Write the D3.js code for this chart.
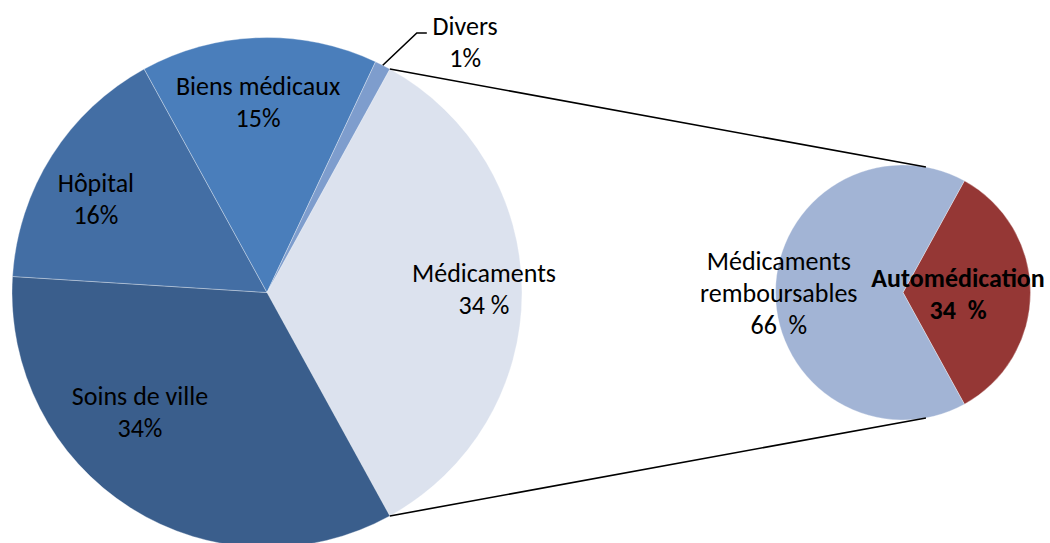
<!DOCTYPE html>
<html lang="fr">

<head>
    <meta charset="UTF-8">
    <title>Dépenses de santé</title>
    <script src="https://d3js.org/d3.v7.min.js"></script>
    <style>
        body {
            margin: 0;
            background: #fff;
        }

        text {
            font-family: Carlito, Lato, "Noto Sans", sans-serif;
            font-size: 26px;
            fill: #000;
            white-space: pre;
        }
    </style>
</head>

<body>
    <div id="chart"></div>
    <script>
        // data
        var mainLabels = ["Médicaments", "Soins de ville", "Hôpital", "Biens médicaux", "Divers"];
        var mainValues = [34, 34, 16, 15, 1];
        var mainPct = ["34 %", "34%", "16%", "15%", "1%"];

        var subLabels = ["Automédication", "Médicaments remboursables"];
        var subValues = [34, 66];
        var subPct = ["34  %", "66  %"];

        var width = 1050, height = 543;
        var mainColors = ["#dce2ee", "#3a5e8c", "#436ea4", "#4a7ebb", "#7e9dcd"];
        var subColors = ["#953735", "#a2b4d5"];

        var svg = d3.select("#chart").append("svg")
            .attr("width", width)
            .attr("height", height);

        var rad = function (deg) { return deg * Math.PI / 180; };

        // main pie, the "Médicaments" slice is centred on the right
        var mainR = 255, mainC = [267, 292.5];
        var mainTotal = d3.sum(mainValues);
        var mainStart = Math.PI / 2 - Math.PI * mainValues[0] / mainTotal;

        var mainPie = d3.pie().sort(null).value(function (d) { return d; })
            .startAngle(mainStart).endAngle(mainStart + 2 * Math.PI);
        var mainArcs = mainPie(mainValues);
        var mainArc = d3.arc().innerRadius(0).outerRadius(mainR);

        var gMain = svg.append("g")
            .attr("transform", "translate(" + mainC[0] + "," + mainC[1] + ")");

        gMain.selectAll("path")
            .data(mainArcs)
            .enter().append("path")
            .attr("d", mainArc)
            .attr("fill", function (d, i) { return mainColors[i]; })
            .attr("stroke", "#ffffff")
            .attr("stroke-opacity", 0.4)
            .attr("stroke-width", 0.8);

        // secondary pie
        var subR = 127.5, subC = [903, 292.5];
        var subTotal = d3.sum(subValues);
        var subStart = Math.PI / 2 - Math.PI * subValues[0] / subTotal;
        var subPie = d3.pie().sort(null).value(function (d) { return d; })
            .startAngle(subStart).endAngle(subStart + 2 * Math.PI);
        var subArcs = subPie(subValues);
        var subArc = d3.arc().innerRadius(0).outerRadius(subR);

        var gSub = svg.append("g")
            .attr("transform", "translate(" + subC[0] + "," + subC[1] + ")");

        gSub.selectAll("path")
            .data(subArcs)
            .enter().append("path")
            .attr("d", subArc)
            .attr("fill", function (d, i) { return subColors[i]; })
            .attr("stroke", "#ffffff")
            .attr("stroke-opacity", 0.4)
            .attr("stroke-width", 0.8);

        // polar point around a centre (angle clockwise from top)
        function polar(c, r, a) {
            return [c[0] + r * Math.sin(a), c[1] - r * Math.cos(a)];
        }

        // tangent point on the small pie seen from p
        function tangent(p, upper) {
            var dx = p[0] - subC[0], dy = p[1] - subC[1];
            var d = Math.sqrt(dx * dx + dy * dy);
            var base = Math.atan2(dy, dx);
            var off = Math.acos(subR / d);
            var t1 = [subC[0] + subR * Math.cos(base + off), subC[1] + subR * Math.sin(base + off)];
            var t2 = [subC[0] + subR * Math.cos(base - off), subC[1] + subR * Math.sin(base - off)];
            if (upper) return t1[1] < t2[1] ? t1 : t2;
            return t1[1] > t2[1] ? t1 : t2;
        }

        // connector lines between the pies
        var pTop = polar(mainC, mainR, mainArcs[0].startAngle);
        var pBot = polar(mainC, mainR, mainArcs[0].endAngle);
        [[pTop, tangent(pTop, true)], [pBot, tangent(pBot, false)]].forEach(function (l) {
            svg.append("line")
                .attr("x1", l[0][0]).attr("y1", l[0][1])
                .attr("x2", l[1][0]).attr("y2", l[1][1])
                .attr("stroke", "#000")
                .attr("stroke-width", 1.6);
        });

        // leader line for Divers
        var dv = mainArcs[4];
        var dMid = (dv.startAngle + dv.endAngle) / 2;
        var l0 = polar(mainC, mainR, dMid);
        var l1 = polar(mainC, mainR * 1.175, dMid + rad(3));
        svg.append("polyline")
            .attr("points", [l0, l1, [l1[0] + 10, l1[1]]].map(function (p) { return p.join(","); }).join(" "))
            .attr("fill", "none")
            .attr("stroke", "#000")
            .attr("stroke-width", 1.6);

        var lineH = 32;

        // label placement: [angle in degrees, radius as share of pie radius]
        var mainLabelPos = [[87.2, 0.852], [228.5, 0.665], [300.4, 0.778], [357.4, 0.775], [37.6, 1.274]];

        mainLabels.forEach(function (name, i) {
            var p = polar(mainC, mainR * mainLabelPos[i][1], rad(mainLabelPos[i][0]));
            var t = svg.append("text")
                .attr("text-anchor", "middle")
                .attr("x", p[0]).attr("y", p[1]);
            t.append("tspan").attr("x", p[0]).text(name);
            t.append("tspan").attr("x", p[0]).attr("dy", lineH).text(mainPct[i]);
        });

        var subLabelPos = [[84.3, 0.434], [280.3, 0.99]];
        var subLines = [[subLabels[0]], ["Médicaments", "remboursables"]];

        subLabels.forEach(function (name, i) {
            var p = polar(subC, subR * subLabelPos[i][1], rad(subLabelPos[i][0]));
            var t = svg.append("text")
                .attr("text-anchor", "middle")
                .attr("font-weight", i === 0 ? "bold" : null)
                .attr("x", p[0]).attr("y", p[1]);
            subLines[i].concat([subPct[i]]).forEach(function (s, k) {
                t.append("tspan").attr("x", p[0]).attr("dy", k === 0 ? 0 : lineH).text(s);
            });
        });
    </script>
</body>

</html>
